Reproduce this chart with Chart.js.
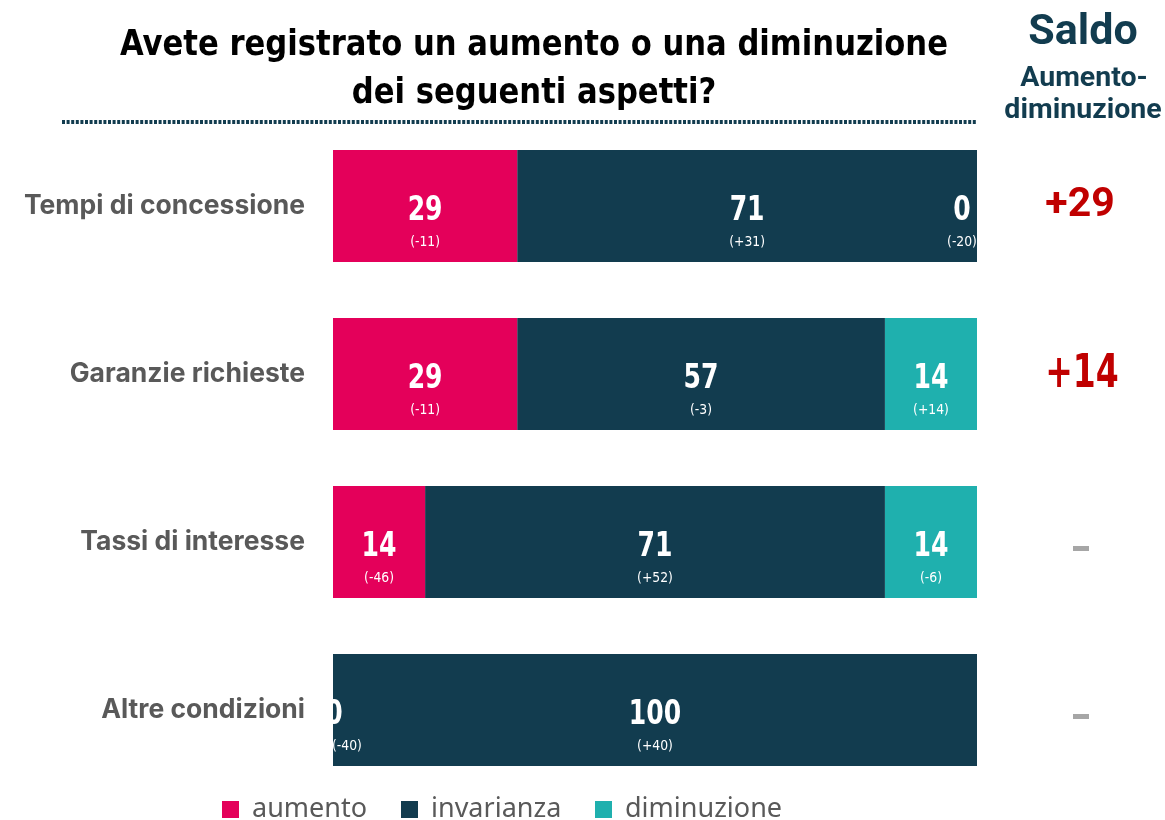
<!DOCTYPE html>
<html>
<head>
<meta charset="utf-8">
<script src="https://cdn.jsdelivr.net/npm/chart.js@4.4.1/dist/chart.umd.min.js"></script>
<style>
  html, body { margin: 0; padding: 0; background: #ffffff; }
  #wrap { width: 1165px; height: 820px; position: relative; }
</style>
</head>
<body>
<div id="wrap"><canvas id="c" width="1165" height="820"></canvas></div>
<script>
// ---- Data ----
const categories = ['Tempi di concessione', 'Garanzie richieste', 'Tassi di interesse', 'Altre condizioni'];
const seriesNames = ['aumento', 'invarianza', 'diminuzione'];
const aumento = [28.6, 28.6, 14.3, 0];
const invarianza = [71.4, 57.1, 71.4, 100];
const diminuzione = [0, 14.3, 14.3, null];
const aumentoLabels = ['29', '29', '14', '0'];
const invarianzaLabels = ['71', '57', '71', '100'];
const diminuzioneLabels = ['0', '14', '14', null];
const aumentoDelta = ['(-11)', '(-11)', '(-46)', '(-40)'];
const invarianzaDelta = ['(+31)', '(-3)', '(+52)', '(+40)'];
const diminuzioneDelta = ['(-20)', '(+14)', '(-6)', null];
const saldo = ['+29', '+14', '-', '-'];
const titleLines = ['Avete registrato un aumento o una diminuzione', 'dei seguenti aspetti?'];

const colors = ['#E4005A', '#123C4F', '#1FB0AE'];
const COND = '"DejaVu Sans Condensed", "DejaVu Sans", sans-serif';

const bigLabels = [aumentoLabels, invarianzaLabels, diminuzioneLabels];
const smallLabels = [aumentoDelta, invarianzaDelta, diminuzioneDelta];

function drawScaled(ctx, text, x, y, font, sx, align) {
  ctx.save();
  ctx.font = font;
  ctx.textAlign = align;
  ctx.translate(x, y);
  ctx.scale(sx, 1);
  ctx.fillText(text, 0, 0);
  ctx.restore();
}

const labelPlugin = {
  id: 'segLabels',
  afterDatasetsDraw(chart) {
    const ctx = chart.ctx;
    const area = chart.chartArea;
    ctx.save();
    ctx.beginPath();
    ctx.rect(area.left, area.top, area.right - area.left, area.bottom - area.top);
    ctx.clip();
    ctx.fillStyle = '#ffffff';
    ctx.textBaseline = 'middle';
    chart.data.datasets.forEach((ds, di) => {
      const meta = chart.getDatasetMeta(di);
      meta.data.forEach((el, i) => {
        const big = bigLabels[di][i];
        if (big === null || big === undefined) return;
        const small = smallLabels[di][i];
        const x0 = Math.min(el.x, el.base), x1 = Math.max(el.x, el.base);
        let cx = (x0 + x1) / 2, sx = cx;
        let salign = 'center';
        if (x1 - x0 < 2) {
          if (di === 0) { cx = x0 + 1; sx = x0 - 1; salign = 'left'; }
          else { cx = x1 - 15; sx = x1 - 15; }
        }
        drawScaled(ctx, big, cx, el.y + 5, 'bold 34px ' + COND, 0.82, 'center');
        drawScaled(ctx, small, sx, el.y + 36, '14.5px ' + COND, 0.95, salign);
      });
    });
    ctx.restore();
  }
};

const decorPlugin = {
  id: 'decor',
  afterDraw(chart) {
    const ctx = chart.ctx;
    const area = chart.chartArea;
    const yScale = chart.scales.y;
    ctx.save();
    ctx.textBaseline = 'middle';
    // Title
    ctx.fillStyle = '#000000';
    const tFont = 'bold 36px ' + COND;
    ctx.font = tFont;
    const w = ctx.measureText(titleLines[0]).width;
    const tsx = 828 / w;
    drawScaled(ctx, titleLines[0], 534, 46, tFont, tsx, 'center');
    drawScaled(ctx, titleLines[1], 534, 94, tFont, tsx, 'center');
    // dotted line
    ctx.strokeStyle = '#123C4F';
    ctx.lineWidth = 4;
    ctx.setLineDash([3, 1.6]);
    ctx.beginPath();
    ctx.moveTo(62, 122);
    ctx.lineTo(area.right, 122);
    ctx.stroke();
    ctx.setLineDash([]);
    // Saldo header
    ctx.fillStyle = '#123C4F';
    ctx.textAlign = 'center';
    ctx.font = 'bold 43px Roboto, sans-serif';
    ctx.fillText('Saldo', 1083, 33);
    ctx.font = 'bold 28.5px Roboto, sans-serif';
    ctx.fillText('Aumento-', 1084, 79);
    ctx.fillText('diminuzione', 1083, 111);
    // Saldo values
    saldo.forEach((s, i) => {
      const y = yScale.getPixelForValue(i);
      if (s === '-') {
        ctx.fillStyle = '#A6A6A6';
        ctx.fillRect(1073, y + 4, 16, 5);
      } else {
        ctx.fillStyle = '#C00000';
        if (i === 0) {
          ctx.font = 'bold 41px Roboto, sans-serif';
          ctx.textAlign = 'center';
          ctx.fillText(s, 1080, y);
        } else {
          drawScaled(ctx, s, 1082, y + 1, 'bold 47px ' + COND, 0.78, 'center');
        }
      }
    });
    // Legend
    const legendX = [222, 401, 595];
    ctx.textAlign = 'left';
    ctx.font = '27px "Noto Sans", sans-serif';
    seriesNames.forEach((n, i) => {
      ctx.fillStyle = colors[i];
      ctx.fillRect(legendX[i], 801, 17, 17);
      ctx.fillStyle = '#595959';
      ctx.fillText(n, legendX[i] + 30, 809);
    });
    ctx.restore();
  }
};

new Chart(document.getElementById('c'), {
  type: 'bar',
  data: {
    labels: categories,
    datasets: [
      { label: seriesNames[0], data: aumento, backgroundColor: colors[0] },
      { label: seriesNames[1], data: invarianza, backgroundColor: colors[1] },
      { label: seriesNames[2], data: diminuzione, backgroundColor: colors[2] }
    ]
  },
  options: {
    indexAxis: 'y',
    responsive: false,
    animation: false,
    devicePixelRatio: 1,
    layout: { padding: { left: 0, right: 188, top: 122, bottom: 26 } },
    datasets: { bar: { barPercentage: 0.667, categoryPercentage: 1.0, borderWidth: 0 } },
    plugins: { legend: { display: false }, tooltip: { enabled: false }, title: { display: false } },
    scales: {
      x: { stacked: true, min: 0, max: 100, display: false },
      y: {
        stacked: true,
        grid: { display: false },
        border: { display: false },
        ticks: { color: '#595959', font: { family: 'Inter', weight: 'bold', size: 26.5 }, padding: 20 },
        afterFit(scale) { scale.width = 333; scale.paddingTop = 0; scale.paddingBottom = 0; }
      }
    }
  },
  plugins: [labelPlugin, decorPlugin]
});
</script>
</body>
</html>
